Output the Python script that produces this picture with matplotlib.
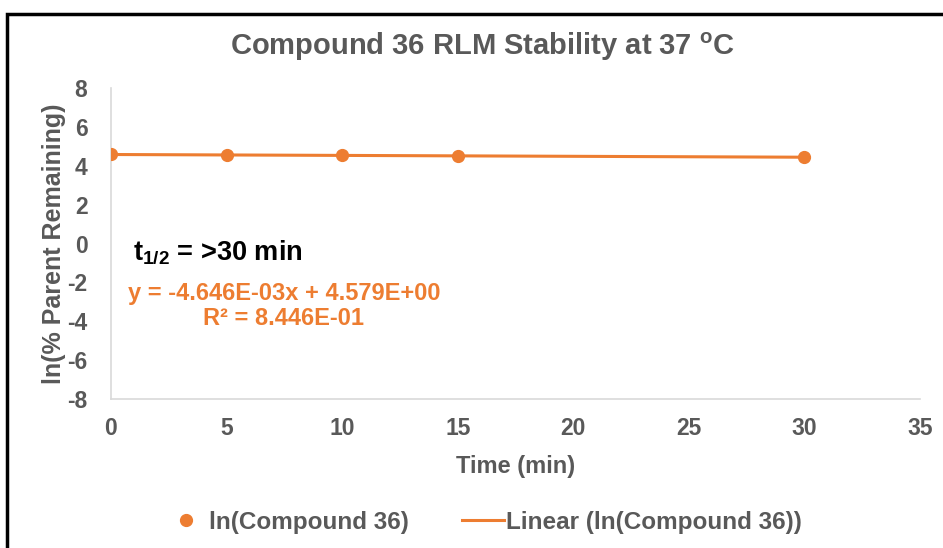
import matplotlib
matplotlib.use('Agg')
import numpy as np
import matplotlib.pyplot as plt
from matplotlib.lines import Line2D
from matplotlib.patches import Rectangle

# time points (min) and ln(% parent remaining)
time_min = [0, 5, 10, 15, 30]
ln_remaining = [4.590, 4.545, 4.540, 4.500, 4.442]

# linear trendline as reported
slope = -4.646e-03
intercept = 4.579
r_squared = 0.8446

x_ticks = [0, 5, 10, 15, 20, 25, 30, 35]
y_ticks = [8, 6, 4, 2, 0, -2, -4, -6, -8]

orange = '#ED7D31'
grey_text = '#595959'
axis_grey = '#D9D9D9'

plt.rcParams['font.family'] = ['Liberation Sans', 'DejaVu Sans']
plt.rcParams['font.weight'] = 'bold'
plt.rcParams['mathtext.default'] = 'regular'
plt.rcParams['axes.unicode_minus'] = False

fig = plt.figure(figsize=(9.43, 5.48), dpi=100)
ax = fig.add_axes([0.1177, 0.2719, 0.9756 - 0.1177, 0.8394 - 0.2719])

fit_x = np.array([time_min[0], time_min[-1]])
ax.plot(fit_x, slope * fit_x + intercept, color=orange, linewidth=2.2, zorder=2)
ax.plot(time_min, ln_remaining, linestyle='none', marker='o', markersize=8.5,
        color=orange, zorder=3)

ax.set_xlim(0, 35)
ax.set_ylim(-8, 8)
ax.set_xticks(x_ticks)
ax.set_yticks(y_ticks)
ax.tick_params(length=0, labelsize=16.5, colors=grey_text)
ax.tick_params(axis='x', pad=13)
ax.tick_params(axis='y', pad=17)
for lbl in ax.get_xticklabels() + ax.get_yticklabels():
    lbl.set_fontweight('bold')

for side in ('top', 'right'):
    ax.spines[side].set_visible(False)
for side in ('left', 'bottom'):
    ax.spines[side].set_color(axis_grey)
    ax.spines[side].set_linewidth(1.2)

ax.set_xlabel('Time (min)', fontsize=17, color=grey_text, fontweight='bold', labelpad=11)
ax.set_ylabel('ln(% Parent Remaining)', fontsize=18, color=grey_text, fontweight='bold', labelpad=1)

fig.text(0.512, 0.915, 'Compound 36 RLM Stability at 37 $^{o}$C', ha='center', va='center',
         fontsize=21, color=grey_text, fontweight='bold')

# half-life and fit annotations
ax.text(0.95, -0.45, 't$_{1/2}$ = >30 min', fontsize=19.5, color='black',
        fontweight='bold', ha='left', va='center')
eq = f'y = {slope:.3E}x + {intercept:.3E}\nR² = {r_squared:.3E}'
ax.text(7.48, -3.2, eq, fontsize=17, color=orange, fontweight='bold',
        ha='center', va='center', linespacing=1.1)

handles = [
    Line2D([], [], linestyle='none', marker='o', markersize=8.5, color=orange,
           label='ln(Compound 36)'),
    Line2D([], [], color=orange, linewidth=2.2, label='Linear (ln(Compound 36))'),
]
leg = fig.legend(handles=handles, loc='center', bbox_to_anchor=(0.513, 0.047), ncol=2,
                 frameon=False, fontsize=17.5, handlelength=1.7, columnspacing=2.2,
                 handletextpad=0.1)
for t in leg.get_texts():
    t.set_color(grey_text)
    t.set_fontweight('bold')

# outer frame
fig.patches.append(Rectangle((0.007, -0.02), 1.1, 0.995, transform=fig.transFigure,
                             fill=False, edgecolor='black', linewidth=2.5))

fig.savefig('out.png', dpi=100)
